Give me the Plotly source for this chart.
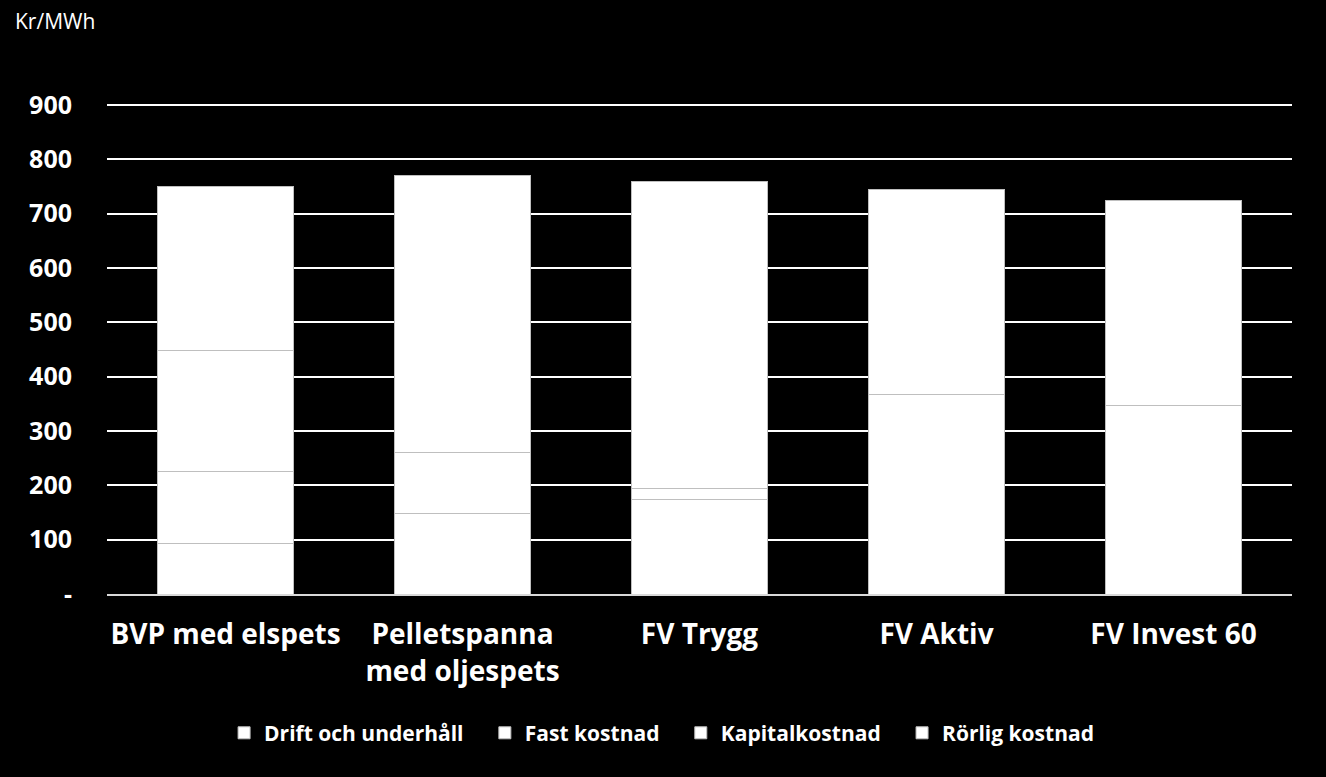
import plotly.graph_objects as go

categories = ["BVP med elspets", "Pelletspanna<br>med oljespets", "FV Trygg", "FV Aktiv", "FV Invest 60"]
drift_och_underhall = [93, 148, 0, 0, 0]
fast_kostnad = [133, 0, 174, 367, 347]
kapitalkostnad = [223, 113, 20, 0, 0]
rorlig_kostnad = [302, 510, 565, 378, 378]
series_names = ["Drift och underhåll", "Fast kostnad", "Kapitalkostnad", "Rörlig kostnad"]
tick_vals = [0, 100, 200, 300, 400, 500, 600, 700, 800, 900]
tick_text = ["-", "100", "200", "300", "400", "500", "600", "700", "800", "900"]

FONT = "'Open Sans', sans-serif"
PAD = "\u00a0\u00a0\u00a0"

fig = go.Figure()
all_series = [drift_och_underhall, fast_kostnad, kapitalkostnad, rorlig_kostnad]
for i, (name, vals) in enumerate(zip(series_names, all_series)):
    label = name + (PAD if i < len(series_names) - 1 else "")
    fig.add_trace(go.Bar(
        x=categories, y=vals, name=label,
        hovertemplate=name + ": %{y}<extra></extra>",
        marker=dict(color="#FFFFFF", line=dict(color="#BFBFBF", width=1)),
    ))

fig.update_layout(
    barmode="stack",
    bargap=0.426,
    paper_bgcolor="#000000",
    plot_bgcolor="#000000",
    width=1326, height=777,
    margin=dict(l=107, r=34, t=104, b=183),
    font=dict(family=FONT, color="#FFFFFF"),
    showlegend=True,
    legend=dict(
        orientation="h", x=0.468, xanchor="center", y=-0.284, yanchor="middle",
        traceorder="normal",
        font=dict(family=FONT, size=21, color="#FFFFFF", weight="bold"),
        itemwidth=30,
        bgcolor="rgba(0,0,0,0)",
    ),
    annotations=[dict(
        text="Kr/MWh", xref="paper", yref="paper", x=-0.079, y=1.17,
        xanchor="left", yanchor="middle", showarrow=False,
        font=dict(family=FONT, size=21, color="#FFFFFF"),
    )],
)
fig.update_yaxes(
    range=[0, 902], tickvals=tick_vals, ticktext=tick_text,
    showgrid=True, gridcolor="#FFFFFF", gridwidth=1.5,
    zeroline=False, showline=False, ticks="",
    ticklabelstandoff=34,
    tickfont=dict(family=FONT, size=25, color="#FFFFFF", weight="bold"),
)
fig.update_xaxes(
    showline=True, linecolor="#D9D9D9", linewidth=1.5, ticks="",
    tickfont=dict(family=FONT, size=28, color="#FFFFFF", weight="bold"),
    ticklabelstandoff=15,
)

fig.write_html("out.html")
